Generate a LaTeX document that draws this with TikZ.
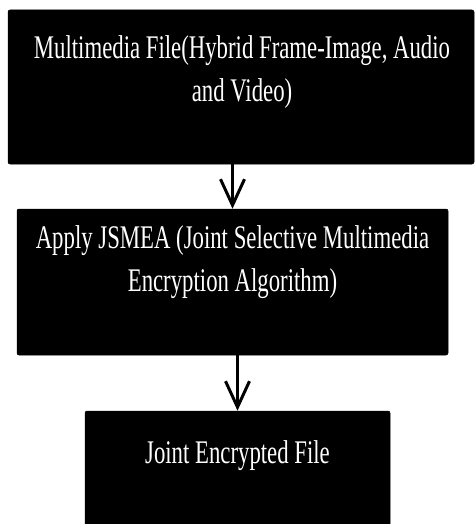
\documentclass[tikz,border=0pt]{standalone}
\usepackage{fontspec}
\newfontfamily\narrowserif[FakeStretch=0.69]{Liberation Serif}
\usetikzlibrary{arrows.meta,calc}

\begin{document}
\begin{tikzpicture}[x=1pt, y=-1pt, line width=3pt,
    >={Straight Barb[length=26pt, width=24pt, line width=3pt]},
    blackbox/.style={fill=black, draw=black, line width=0.5pt, rounded corners=2pt, inner sep=0pt},
    boxtext/.style={text=white, anchor=north, inner sep=0pt, align=center,
        font=\narrowserif\fontsize{33}{43}\selectfont}]
    \useasboundingbox (0,0) rectangle (475,524);

    % multimedia file
    \node[blackbox, minimum width=466pt, minimum height=154pt] (media) at (241,87) {};
    \node[boxtext] (mediatext) at ($(media.north)+(1,24)$)
        {Multimedia File(Hybrid Frame-Image, Audio\\and Video)};

    % JSMEA
    \node[blackbox, minimum width=431pt, minimum height=146pt] (jsmea) at (232.5,282) {};
    \node[boxtext] (jsmeatext) at ($(jsmea.north)+(0,15)$)
        {Apply JSMEA (Joint Selective Multimedia\\Encryption Algorithm)};

    % encrypted file
    \node[blackbox, minimum width=305pt, minimum height=120pt] (joint) at (237.5,471) {};
    \node[boxtext] (jointtext) at ($(joint.north)+(0,28)$) {Joint Encrypted File};

    % arrows
    \draw[->] (media.south -| jsmea.north) -- (jsmea.north);
    \draw[->] (jsmea.south -| joint.north) -- (joint.north);
\end{tikzpicture}
\end{document}
